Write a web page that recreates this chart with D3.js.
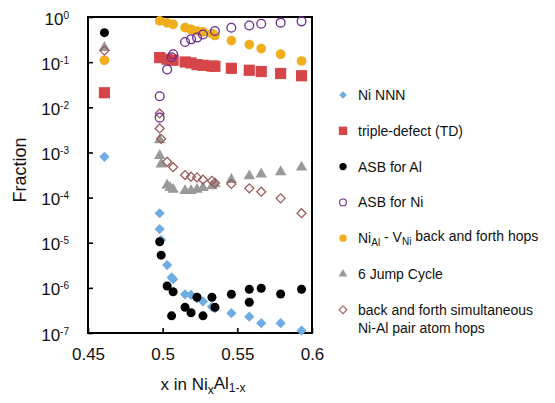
<!DOCTYPE html>
<html>
<head>
<meta charset="utf-8">
<script src="https://cdn.jsdelivr.net/npm/d3@7"></script>
<style>
  body { margin: 0; background: #fff; }
  text { font-family: "Liberation Sans", Arial, Helvetica, sans-serif; fill: #111; }
</style>
</head>
<body>
<div id="chart"></div>
<script>
// values, [x, fraction]
var niNNN = [[0.461, 8e-4], [0.498, 4.5e-5], [0.498, 2.0e-5], [0.499, 1.15e-5], [0.503, 3.2e-6], [0.506, 1.7e-6],
    [0.507, 1.55e-6], [0.515, 7.2e-7], [0.519, 7.0e-7], [0.523, 5.9e-7], [0.527, 5.0e-7], [0.533, 3.8e-7],
    [0.535, 3.5e-7], [0.546, 2.75e-7], [0.558, 2.3e-7], [0.566, 1.65e-7], [0.579, 1.65e-7], [0.593, 1.13e-7]];
var tripleDefect = [[0.461, 0.021], [0.498, 0.126], [0.503, 0.116], [0.507, 0.110], [0.515, 0.101], [0.519, 0.096],
    [0.523, 0.088], [0.527, 0.085], [0.533, 0.082], [0.535, 0.081], [0.546, 0.073], [0.558, 0.066],
    [0.566, 0.062], [0.579, 0.056], [0.593, 0.050]];
var asbAl = [[0.461, 0.45], [0.498, 1.05e-5], [0.499, 5.3e-6], [0.503, 1.1e-6], [0.506, 2.4e-7], [0.507, 8.2e-7],
    [0.515, 3.7e-7], [0.519, 2.8e-7], [0.523, 6.2e-7], [0.527, 2.4e-7], [0.533, 6.2e-7], [0.535, 3.7e-7],
    [0.546, 7.2e-7], [0.558, 9.3e-7], [0.558, 4.8e-7], [0.566, 9.8e-7], [0.579, 7.3e-7], [0.593, 9.3e-7]];
var asbNi = [[0.498, 0.0176], [0.498, 0.0059], [0.503, 0.069], [0.506, 0.128], [0.507, 0.15], [0.515, 0.28],
    [0.519, 0.32], [0.523, 0.35], [0.527, 0.41], [0.535, 0.49], [0.546, 0.58], [0.558, 0.65],
    [0.566, 0.71], [0.579, 0.75], [0.593, 0.80]];
var niAlHops = [[0.461, 0.11], [0.498, 0.82], [0.503, 0.74], [0.507, 0.69], [0.515, 0.58], [0.519, 0.53],
    [0.523, 0.49], [0.527, 0.47], [0.533, 0.43], [0.535, 0.39], [0.546, 0.30], [0.558, 0.245],
    [0.566, 0.20], [0.579, 0.15], [0.593, 0.106]];
var jumpCycle = [[0.461, 0.21], [0.498, 1.9e-3], [0.498, 8.5e-4], [0.499, 5.5e-4], [0.503, 1.88e-4], [0.505, 1.65e-4],
    [0.507, 1.51e-4], [0.515, 1.41e-4], [0.519, 1.41e-4], [0.523, 1.51e-4], [0.527, 1.65e-4], [0.533, 1.8e-4],
    [0.535, 2.0e-4], [0.546, 2.5e-4], [0.558, 3.0e-4], [0.566, 3.3e-4], [0.579, 3.7e-4], [0.593, 4.7e-4]];
var pairHops = [[0.461, 0.18], [0.498, 7.3e-3], [0.498, 3.4e-3], [0.499, 2.0e-3], [0.503, 6.2e-4], [0.507, 4.7e-4],
    [0.515, 3.15e-4], [0.519, 2.9e-4], [0.523, 2.8e-4], [0.527, 2.5e-4], [0.533, 2.35e-4], [0.535, 2.1e-4],
    [0.546, 2.0e-4], [0.558, 1.6e-4], [0.566, 1.35e-4], [0.579, 9.6e-5], [0.593, 4.5e-5]];

var xTicks = [0.45, 0.5, 0.55, 0.6];
var xTickLabels = ["0.45", "0.5", "0.55", "0.6"];
var yExponents = [0, -1, -2, -3, -4, -5, -6, -7];

var plotLeft = 88, plotRight = 312, plotTop = 17, plotBottom = 333;

var svg = d3.select("#chart").append("svg")
    .attr("width", 555)
    .attr("height", 403);

var x = d3.scaleLinear().domain([0.45, 0.6]).range([plotLeft, plotRight]);
var y = d3.scaleLog().domain([1e-7, 1]).range([plotBottom, plotTop]);

// axes, ticks pointing inward
var yAxis = svg.append("g")
    .attr("transform", "translate(" + plotLeft + ",0)")
    .call(d3.axisLeft(y).tickValues(yExponents.map(function(e){ return Math.pow(10, e); }))
        .tickSize(-5).tickFormat(""));
yAxis.select(".domain").remove();
yAxis.selectAll(".tick line").attr("stroke", "#000").attr("stroke-width", 1.6);
yAxis.selectAll(".tick").append("text")
    .attr("x", -19)
    .attr("dy", "0.42em")
    .attr("text-anchor", "end")
    .style("font-size", "17px")
    .each(function(d){
        var t = d3.select(this);
        t.append("tspan").text("10");
        t.append("tspan").attr("dy", "-0.6em").style("font-size", "10px")
            .text(String(Math.round(Math.log10(d))));
    });

var xAxis = svg.append("g")
    .attr("transform", "translate(0," + plotBottom + ")")
    .call(d3.axisBottom(x).tickValues(xTicks).tickSize(-5).tickFormat(""));
xAxis.select(".domain").remove();
xAxis.selectAll(".tick line").attr("stroke", "#000").attr("stroke-width", 1.6);
xAxis.selectAll(".tick").append("text")
    .attr("y", 27)
    .attr("text-anchor", "middle")
    .style("font-size", "17px")
    .text(function(d, i){ return xTickLabels[i]; });

svg.append("rect")
    .attr("x", plotLeft).attr("y", plotTop)
    .attr("width", plotRight - plotLeft).attr("height", plotBottom - plotTop)
    .attr("fill", "none").attr("stroke", "#000").attr("stroke-width", 2);

// axis titles
svg.append("text")
    .attr("transform", "translate(26,170) rotate(-90)")
    .attr("text-anchor", "middle")
    .style("font-size", "18px")
    .text("Fraction");

var xt = svg.append("text")
    .attr("x", 203).attr("y", 390)
    .attr("text-anchor", "middle")
    .style("font-size", "17px");
xt.append("tspan").text("x in Ni");
xt.append("tspan").attr("dy", "0.3em").style("font-size", "12px").text("x");
xt.append("tspan").attr("dy", "-0.3em").text("Al");
xt.append("tspan").attr("dy", "0.3em").style("font-size", "12px").text("1-x");

// series
var diamond = {draw: function(ctx, size){
    var r = Math.sqrt(size / 2);
    ctx.moveTo(0, -r); ctx.lineTo(r, 0); ctx.lineTo(0, r); ctx.lineTo(-r, 0); ctx.closePath();
}};

var series = [
    {name: "Ni NNN", data: niNNN, type: diamond, size: 52, fill: "#6dade3", stroke: "none", legendSize: 30},
    {name: "triple-defect (TD)", data: tripleDefect, type: d3.symbolSquare, size: 125, fill: "#d64547", stroke: "none", legendSize: 70},
    {name: "6 Jump Cycle", data: jumpCycle, type: d3.symbolTriangle, size: 56, fill: "#999999", stroke: "none", legendSize: 34},
    {name: "ASB for Al", data: asbAl, type: d3.symbolCircle, size: 64, fill: "#000", stroke: "none", legendSize: 42},
    {name: "NiAl", data: niAlHops, type: d3.symbolCircle, size: 74, fill: "#f0ad1c", stroke: "none", legendSize: 42},
    {name: "pair hops", data: pairHops, type: diamond, size: 40, fill: "none", stroke: "#9c5a5a", legendSize: 30},
    {name: "ASB for Ni", data: asbNi, type: d3.symbolCircle, size: 60, fill: "none", stroke: "#6a2a8f", legendSize: 36}
];

series.forEach(function(s){
    svg.append("g").selectAll("path")
        .data(s.data)
        .enter().append("path")
        .attr("transform", function(d){ return "translate(" + x(d[0]) + "," + y(d[1]) + ")"; })
        .attr("d", d3.symbol().type(s.type).size(s.size))
        .attr("fill", s.fill)
        .attr("stroke", s.stroke)
        .attr("stroke-width", 1.3);
});

// legend
var legendOrder = ["Ni NNN", "triple-defect (TD)", "ASB for Al", "ASB for Ni", "NiAl", "6 Jump Cycle", "pair hops"];
var legend = svg.append("g");
legendOrder.forEach(function(name, i){
    var s = series.filter(function(d){ return d.name == name; })[0];
    var ly = 95 + i * 35.8;
    legend.append("path")
        .attr("transform", "translate(343," + ly + ")")
        .attr("d", d3.symbol().type(s.type).size(s.legendSize))
        .attr("fill", s.fill)
        .attr("stroke", s.stroke)
        .attr("stroke-width", 1.1);
    var t = legend.append("text")
        .attr("x", 358).attr("y", ly + 5)
        .style("font-size", "14px");
    if (name == "NiAl") {
        t.append("tspan").text("Ni");
        t.append("tspan").attr("dy", "0.3em").style("font-size", "10px").text("Al");
        t.append("tspan").attr("dy", "-0.3em").text(" - V");
        t.append("tspan").attr("dy", "0.3em").style("font-size", "10px").text("Ni");
        t.append("tspan").attr("dy", "-0.3em").text(" back and forth hops");
    } else if (name == "pair hops") {
        t.text("back and forth simultaneous");
        legend.append("text")
            .attr("x", 358).attr("y", ly + 23)
            .style("font-size", "14px")
            .text("Ni-Al pair atom hops");
    } else {
        t.text(name);
    }
});
</script>
</body>
</html>
